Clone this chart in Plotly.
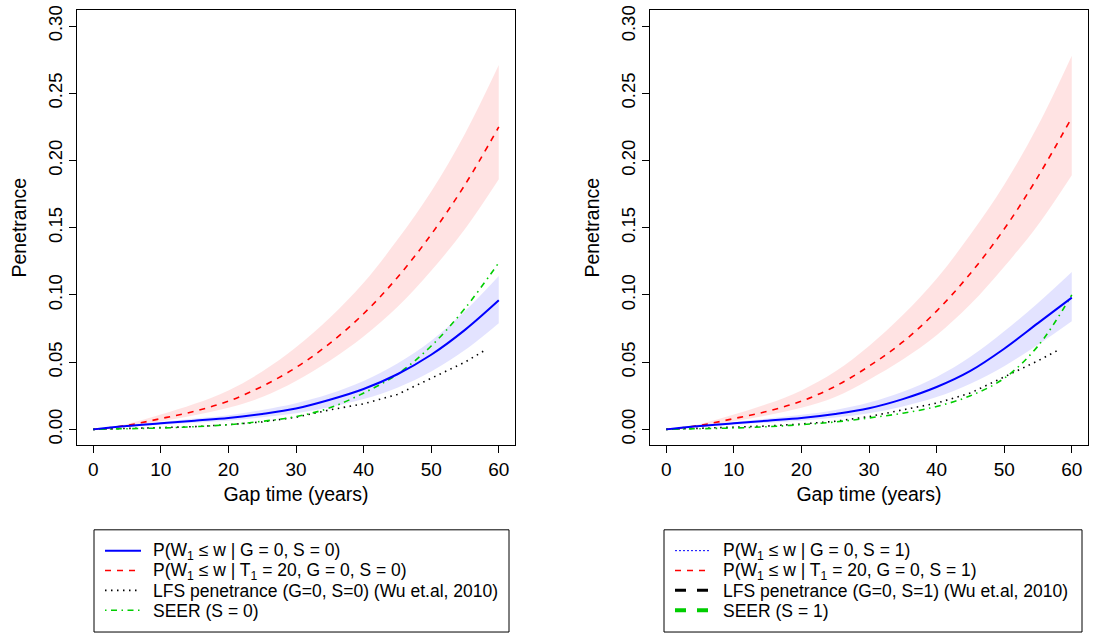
import plotly.graph_objects as go

W, H = 1094, 634

# gap time grid (years)
gap = [0, 5, 10, 15, 20, 25, 30, 35, 40, 45, 50, 55, 60]
lfs_gap = [0, 5, 10, 15, 20, 25, 30, 35, 40, 45, 50, 55, 58]

# ---- left panel, S = 0
p_s0 = [0, 0.0025, 0.0045, 0.0065, 0.0085, 0.0115, 0.0155, 0.022, 0.030, 0.041, 0.0555, 0.074, 0.096]
p_s0_lo = [0, 0.002, 0.0035, 0.005, 0.0065, 0.009, 0.012, 0.0165, 0.0225, 0.031, 0.043, 0.059, 0.079]
p_s0_hi = [0, 0.003, 0.0055, 0.008, 0.0105, 0.0145, 0.0195, 0.0265, 0.036, 0.049, 0.066, 0.088, 0.114]
pt_s0 = [0, 0.003, 0.008, 0.0135, 0.021, 0.032, 0.046, 0.064, 0.086, 0.113, 0.145, 0.182, 0.225]
pt_s0_lo = [0, 0.002, 0.006, 0.0105, 0.016, 0.024, 0.036, 0.051, 0.069, 0.091, 0.118, 0.149, 0.186]
pt_s0_hi = [0, 0.004, 0.011, 0.019, 0.029, 0.043, 0.061, 0.083, 0.109, 0.141, 0.177, 0.220, 0.271]
lfs_s0 = [0, 0.0005, 0.0012, 0.002, 0.0035, 0.0055, 0.009, 0.0145, 0.019, 0.026, 0.038, 0.050, 0.059]
seer_s0 = [0, 0.0005, 0.001, 0.002, 0.0035, 0.006, 0.0095, 0.016, 0.027, 0.041, 0.062, 0.090, 0.124]

# ---- right panel, S = 1
p_s1 = [0, 0.0025, 0.0045, 0.0065, 0.0085, 0.0115, 0.0157, 0.0225, 0.0315, 0.0435, 0.060, 0.079, 0.098]
p_s1_lo = [0, 0.002, 0.0035, 0.005, 0.0065, 0.0088, 0.012, 0.017, 0.024, 0.034, 0.047, 0.063, 0.0805]
p_s1_hi = [0, 0.003, 0.0055, 0.008, 0.0108, 0.0145, 0.020, 0.028, 0.039, 0.054, 0.073, 0.094, 0.117]
pt_s1 = [0, 0.003, 0.008, 0.0135, 0.021, 0.032, 0.047, 0.065, 0.088, 0.116, 0.149, 0.188, 0.232]
pt_s1_lo = [0, 0.002, 0.006, 0.0105, 0.016, 0.024, 0.037, 0.052, 0.070, 0.093, 0.121, 0.152, 0.189]
pt_s1_hi = [0, 0.004, 0.011, 0.019, 0.029, 0.043, 0.062, 0.085, 0.112, 0.145, 0.182, 0.226, 0.278]
lfs_s1 = [0, 0.0007, 0.0015, 0.0025, 0.004, 0.006, 0.0095, 0.0145, 0.0195, 0.027, 0.039, 0.051, 0.059]
seer_s1 = [0, 0.0005, 0.001, 0.002, 0.0035, 0.0055, 0.0085, 0.012, 0.017, 0.025, 0.038, 0.062, 0.100]

legend_s0 = ["P(W<sub>1</sub> ≤ w | G = 0, S = 0)",
             "P(W<sub>1</sub> ≤ w | T<sub>1</sub> = 20, G = 0, S = 0)",
             "LFS penetrance (G=0, S=0) (Wu et.al, 2010)",
             "SEER (S = 0)"]
legend_s1 = ["P(W<sub>1</sub> ≤ w | G = 0, S = 1)",
             "P(W<sub>1</sub> ≤ w | T<sub>1</sub> = 20, G = 0, S = 1)",
             "LFS penetrance (G=0, S=1) (Wu et.al, 2010)",
             "SEER (S = 1)"]

GREEN = "#00CD00"
FONT = "Liberation Sans, Arial, Helvetica, sans-serif"

fig = go.Figure()


def add_band(lo, hi, color, xa, ya):
    fig.add_trace(go.Scatter(x=gap, y=lo, mode="lines", line=dict(width=0, shape="spline"),
                             xaxis=xa, yaxis=ya, showlegend=False, hoverinfo="skip"))
    fig.add_trace(go.Scatter(x=gap, y=hi, mode="lines", line=dict(width=0, shape="spline"),
                             fill="tonexty", fillcolor=color,
                             xaxis=xa, yaxis=ya, showlegend=False, hoverinfo="skip"))


def add_panel(p, p_lo, p_hi, pt, pt_lo, pt_hi, lfs, seer, xa, ya):
    add_band(pt_lo, pt_hi, "rgba(255,0,0,0.11)", xa, ya)
    add_band(p_lo, p_hi, "rgba(0,0,255,0.11)", xa, ya)
    fig.add_trace(go.Scatter(x=gap, y=pt, mode="lines", xaxis=xa, yaxis=ya, showlegend=False,
                             line=dict(color="red", width=1.6, dash="6px,6px", shape="spline")))
    fig.add_trace(go.Scatter(x=lfs_gap, y=lfs, mode="lines", xaxis=xa, yaxis=ya, showlegend=False,
                             line=dict(color="black", width=1.6, dash="1.5px,4.5px")))
    fig.add_trace(go.Scatter(x=gap, y=seer, mode="lines", xaxis=xa, yaxis=ya, showlegend=False,
                             line=dict(color=GREEN, width=1.6, dash="1.5px,4.5px,6px,4.5px", shape="spline")))
    fig.add_trace(go.Scatter(x=gap, y=p, mode="lines", xaxis=xa, yaxis=ya, showlegend=False,
                             line=dict(color="blue", width=2, shape="spline")))


add_panel(p_s0, p_s0_lo, p_s0_hi, pt_s0, pt_s0_lo, pt_s0_hi, lfs_s0, seer_s0, "x", "y")
add_panel(p_s1, p_s1_lo, p_s1_hi, pt_s1, pt_s1_lo, pt_s1_hi, lfs_s1, seer_s1, "x2", "y2")


def px(x):
    return x / W


def py(y):
    return 1 - y / H


xaxis_style = dict(range=[-2.4, 62.4], tickvals=[0, 10, 20, 30, 40, 50, 60],
                   ticks="outside", ticklen=7, tickcolor="black", showgrid=False, zeroline=False,
                   showline=True, mirror=True, linecolor="black", linewidth=1,
                   tickfont=dict(size=19, color="black"),
                   title=dict(text="Gap time (years)", font=dict(size=19.5, color="black"), standoff=8))
yaxis_style = dict(range=[-0.012, 0.312], tickvals=[0, 0.05, 0.1, 0.15, 0.2, 0.25, 0.3],
                   tickformat=".2f", tickangle=-90,
                   ticks="outside", ticklen=7, tickcolor="black", showgrid=False, zeroline=False,
                   showline=True, mirror=True, linecolor="black", linewidth=1,
                   tickfont=dict(size=18.5, color="black"),
                   title=dict(text="Penetrance", font=dict(size=19.5, color="black"), standoff=12))

fig.update_layout(
    width=W, height=H,
    margin=dict(l=0, r=0, t=0, b=0),
    plot_bgcolor="white", paper_bgcolor="white",
    font=dict(family=FONT, color="black"),
    showlegend=False,
    xaxis=dict(domain=[px(77), px(515)], anchor="y", **xaxis_style),
    yaxis=dict(domain=[py(444), py(5)], anchor="x", **yaxis_style),
    xaxis2=dict(domain=[px(650), px(1088)], anchor="y2", **xaxis_style),
    yaxis2=dict(domain=[py(444), py(5)], anchor="x2", **yaxis_style),
)

# legend boxes drawn like R's legend()
legend_specs = [
    (94, 509, legend_s0, [
        dict(color="blue", width=2, dash="solid"),
        dict(color="red", width=1.6, dash="6px,6px"),
        dict(color="black", width=1.6, dash="1.5px,4.5px"),
        dict(color=GREEN, width=1.6, dash="1.5px,4.5px,6px,4.5px"),
    ]),
    (664, 1082, legend_s1, [
        dict(color="blue", width=1, dash="2px,2px"),
        dict(color="red", width=1.6, dash="6px,6px"),
        dict(color="black", width=3, dash="11px,11px"),
        dict(color=GREEN, width=4, dash="11px,11px"),
    ]),
]
row_y = [550, 570, 590, 610]
for left, right, labels, styles in legend_specs:
    fig.add_shape(type="rect", xref="paper", yref="paper",
                  x0=px(left), x1=px(right), y0=py(632), y1=py(529),
                  line=dict(color="black", width=1), fillcolor="rgba(0,0,0,0)")
    for ry, lab, st in zip(row_y, labels, styles):
        fig.add_shape(type="line", xref="paper", yref="paper",
                      x0=px(left + 11), x1=px(left + 47), y0=py(ry), y1=py(ry), line=st)
        fig.add_annotation(x=px(left + 57), y=py(ry + 1), xref="paper", yref="paper",
                           text=lab, showarrow=False, xanchor="left", yanchor="middle",
                           font=dict(size=17.5, color="black"))

fig.write_html("out.html", config={"displayModeBar": False},
               post_script="document.body.style.margin='0px';")
